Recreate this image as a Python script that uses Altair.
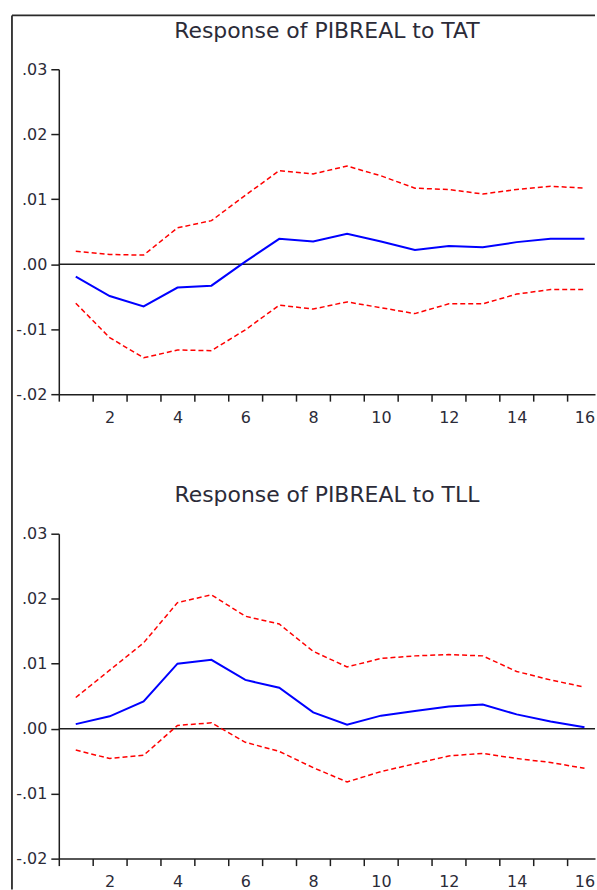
import altair as alt
import pandas as pd

# ---------------- data ----------------
periods = list(range(1, 17))

tat_response = [-0.0019, -0.0049, -0.0065, -0.0036, -0.0033, 0.0004, 0.0039, 0.0035,
                0.0047, 0.0035, 0.0022, 0.0028, 0.0026, 0.0034, 0.0039, 0.0039]
tat_upper = [0.0020, 0.0015, 0.0014, 0.0056, 0.0067, 0.0106, 0.0144, 0.0139,
             0.0151, 0.0136, 0.0117, 0.0115, 0.0108, 0.0115, 0.0120, 0.0117]
tat_lower = [-0.0060, -0.0113, -0.0144, -0.0132, -0.0133, -0.0101, -0.0063, -0.0069,
             -0.0058, -0.0067, -0.0076, -0.0061, -0.0061, -0.0046, -0.0039, -0.0039]

tll_response = [0.0007, 0.0019, 0.0042, 0.0100, 0.0106, 0.0075, 0.0063, 0.0025,
                0.0006, 0.0020, 0.0027, 0.0034, 0.0037, 0.0022, 0.0011, 0.0002]
tll_upper = [0.0048, 0.0090, 0.0132, 0.0194, 0.0206, 0.0173, 0.0161, 0.0119,
             0.0095, 0.0108, 0.0112, 0.0114, 0.0112, 0.0088, 0.0075, 0.0064]
tll_lower = [-0.0033, -0.0046, -0.0041, 0.0005, 0.0009, -0.0021, -0.0035, -0.0060,
             -0.0082, -0.0066, -0.0054, -0.0042, -0.0038, -0.0046, -0.0052, -0.0061]

panel_titles = ["Response of PIBREAL to TAT", "Response of PIBREAL to TLL"]
y_tick_values = [-0.02, -0.01, 0.0, 0.01, 0.02, 0.03]
x_tick_edges = [p - 0.5 for p in periods]

# ---------------- style ----------------
FONT = "DejaVu Sans"
TEXT = "#2b2b38"
AXIS = "#1e1e1e"
W, H = 538, 326
GAP = 140
X_MAX = 16.31
HALF_BAND = W / (X_MAX - 0.5) / 2


def panel(title, resp, upper, lower, title_offset, with_frame):
    df = pd.DataFrame({"period": periods, "resp": resp, "upper": upper, "lower": lower})
    xs = alt.Scale(domain=[0.5, X_MAX], nice=False, zero=False)
    ys = alt.Scale(domain=[-0.02, 0.03], nice=False, zero=False)
    xaxis = alt.Axis(
        values=x_tick_edges, title=None, grid=False,
        tickSize=7, tickWidth=1.5, tickColor=AXIS,
        domainColor=AXIS, domainWidth=1.5,
        labelExpr="(datum.value + 0.5) % 2 == 0 ? '' + (datum.value + 0.5) : ''",
        labelOffset=HALF_BAND, labelPadding=8, labelFlush=False, labelOverlap=False,
        labelFont=FONT, labelFontSize=16, labelColor=TEXT,
    )
    yaxis = alt.Axis(
        values=y_tick_values, title=None, grid=False,
        tickSize=8, tickWidth=1.5, tickColor=AXIS,
        domainColor=AXIS, domainWidth=1.5,
        labelExpr="(datum.value < 0 ? '-' : '') + replace(format(abs(datum.value), '.2f'), '0.', '.')",
        labelPadding=4, labelFlush=False, labelOverlap=False,
        labelFont=FONT, labelFontSize=16, labelColor=TEXT,
    )
    x = alt.X("period:Q", scale=xs, axis=xaxis)
    base = alt.Chart(df)

    zero = alt.Chart(pd.DataFrame({"z": [0.0]})).mark_rule(
        color=AXIS, strokeWidth=1.5
    ).encode(y=alt.Y("z:Q", scale=ys, axis=yaxis))

    up = base.mark_line(color="#ff0000", strokeWidth=1.5, strokeDash=[5, 3]).encode(
        x=x, y=alt.Y("upper:Q", scale=ys, axis=yaxis))
    lo = base.mark_line(color="#ff0000", strokeWidth=1.5, strokeDash=[5, 3]).encode(
        x=x, y=alt.Y("lower:Q", scale=ys, axis=yaxis))
    mid = base.mark_line(color="#0000ff", strokeWidth=2).encode(
        x=x, y=alt.Y("resp:Q", scale=ys, axis=yaxis))

    layers = [zero, up, lo, mid]
    if with_frame:
        one = pd.DataFrame({"k": [0]})
        frame_v = alt.Chart(one).mark_rule(color="#2a2a2a", strokeWidth=1.8).encode(
            x=alt.value(-47), y=alt.value(-54), y2=alt.value(823))
        frame_h = alt.Chart(one).mark_rule(color="#2a2a2a", strokeWidth=1.8).encode(
            x=alt.value(-47), x2=alt.value(W), y=alt.value(-54))
        layers = [frame_v, frame_h] + layers

    return alt.layer(*layers).properties(
        width=W, height=H,
        title=alt.TitleParams(
            text=title, font=FONT, fontSize=22, fontWeight="normal", color=TEXT,
            anchor="middle", frame="group", baseline="alphabetic", offset=title_offset,
        ),
    )


top = panel(panel_titles[0], tat_response, tat_upper, tat_lower, -46, True)
bottom = panel(panel_titles[1], tll_response, tll_upper, tll_lower, 2, False)

chart = alt.vconcat(top, bottom, spacing=GAP, bounds="flush").properties(
    padding={"left": 10, "top": 12, "right": 0, "bottom": 0},
    background="white",
).configure_view(stroke="transparent")

chart.save("out.html", embed_options={"renderer": "svg", "actions": False})
